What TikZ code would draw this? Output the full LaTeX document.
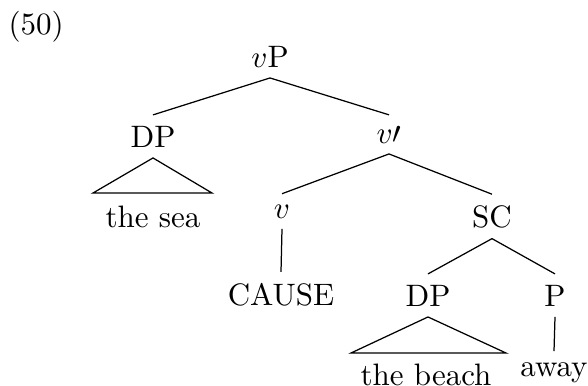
\documentclass[tikz,border=0pt]{standalone}
\begin{document}
\begin{tikzpicture}[x=0.3226pt, y=-0.3226pt,
  lab/.style={anchor=base, inner sep=3.33pt},
  edge/.style={line width=0.4pt}]
\useasboundingbox (0,0) rectangle (588,385);
\node[anchor=base west, inner sep=0] (ex) at (8,34) {(50)};
\node[lab] (vP) at (270,67) {$v$P};
\node[lab] (dp1) at (153,147) {DP};
\node[lab] (vbar) at (389,143) {$v\prime$};
\node[lab] (sea) at (153,227) {the sea};
\node[lab] (v) at (282,218) {$v$};
\node[lab] (sc) at (492,227) {SC};
\node[lab] (cause) at (281,305) {CAUSE};
\node[lab] (dp2) at (428,306) {DP};
\node[lab] (p) at (555,306) {P};
\node[lab] (beach) at (426,385) {the beach};
\node[lab] (away) at (554,376) {away};
\coordinate (t1l) at (93,193);
\coordinate (t1r) at (212,193);
\coordinate (t2l) at (351,353);
\coordinate (t2r) at (506,353);
\draw[edge] (vP.south) -- (dp1.north);
\draw[edge] (vP.south) -- (vbar.north);
\draw[edge] (dp1.south) -- (t1l) -- (t1r) -- cycle;
\draw[edge] (vbar.south) -- (v.north);
\draw[edge] (vbar.south) -- (sc.north);
\draw[edge] (v.south) -- (cause.north);
\draw[edge] (sc.south) -- (dp2.north);
\draw[edge] (sc.south) -- (p.north);
\draw[edge] (dp2.south) -- (t2l) -- (t2r) -- cycle;
\draw[edge] (p.south) -- (away.north);
\end{tikzpicture}
\end{document}
